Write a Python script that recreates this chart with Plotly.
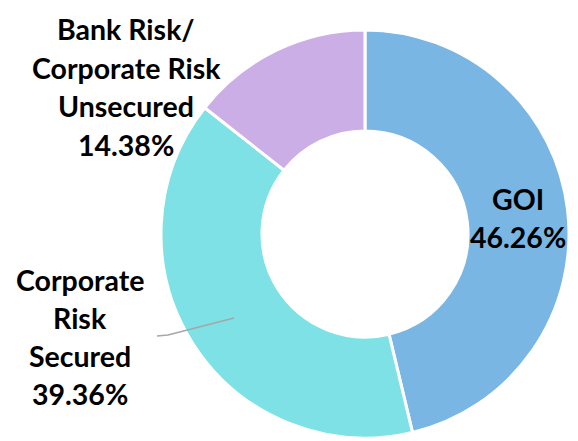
import plotly.graph_objects as go

W, H = 578, 441

labels = ["GOI", "Corporate Risk Secured", "Bank Risk/Corporate Risk Unsecured"]
values = [46.26, 39.36, 14.38]
colors = ["#79b6e3", "#7ee1e6", "#cbaee6"]

# label text lines (display)
goi_lines = ["GOI", "46.26%"]
crs_lines = ["Corporate", "Risk", "Secured", "39.36%"]
bank_lines = ["Bank Risk/", "Corporate Risk", "Unsecured", "14.38%"]

def px(x):
    return x / W

def py(y):
    return 1 - y / H

cx, cy, R = 365, 234, 204

fig = go.Figure(go.Pie(
    labels=labels, values=values, sort=False, direction="clockwise", rotation=0,
    hole=0.505, textinfo="none", hoverinfo="label+percent",
    marker=dict(colors=colors, line=dict(color="white", width=3)),
    domain=dict(x=[px(cx - R), px(cx + R)], y=[py(cy + R), py(cy - R)]),
    showlegend=False,
))

font = dict(family="Lato", size=28.5, color="black")
ann = []

def add_block(lines, xc, y0, step):
    for i, t in enumerate(lines):
        ann.append(dict(text="<b>%s</b>" % t, x=px(xc), y=py(y0 + i * step),
                        xref="paper", yref="paper", showarrow=False,
                        xanchor="center", yanchor="middle", font=font))

add_block(goi_lines, 518, 199, 38)
add_block(bank_lines, 126, 29, 38.5)
add_block(crs_lines, 80, 280, 38)

fig.update_layout(
    width=W, height=H, margin=dict(l=0, r=0, t=0, b=0),
    paper_bgcolor="white", plot_bgcolor="white",
    annotations=ann,
    shapes=[dict(type="path", xref="paper", yref="paper",
                 path="M %f,%f L %f,%f L %f,%f" % (px(157), py(336), px(168), py(335), px(234), py(318)),
                 line=dict(color="#a6a6a6", width=1.5))],
)

fig.write_html("out.html")
